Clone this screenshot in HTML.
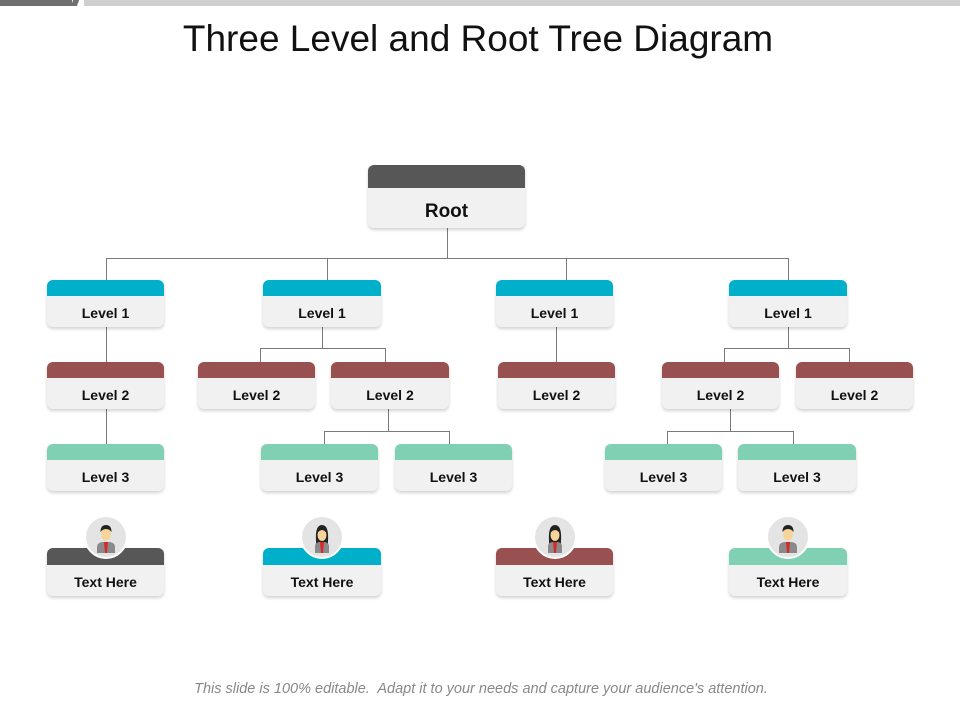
<!DOCTYPE html>
<html><head><meta charset="utf-8"><style>
body{margin:0;width:960px;height:720px;background:#fff;position:relative;overflow:hidden;font-family:"Liberation Sans",Arial,sans-serif}
.b{position:absolute;background:#f1f1f1;border-radius:6px;box-shadow:0 2px 3px rgba(0,0,0,.18);overflow:hidden;text-align:center;font-weight:bold;font-size:14px;color:#111}
.b i{display:block;height:16px}
.b span{display:block;line-height:31px;padding-top:2px}
.t{background:#00afca}.m{background:#985050}.g{background:#80d0b3}.d{background:#575757}
.av{position:absolute;width:40px;height:40px;border-radius:50%;background:#e4e4e4;border:2px solid #fff}
</style></head><body>
<div style="position:absolute;left:0;top:0;width:72px;height:6px;background:#6f6f6f"></div>
<div style="position:absolute;left:72px;top:0;width:6px;height:6px;background:#6f6f6f;transform:skewX(-20deg)"></div>
<div style="position:absolute;left:84px;top:0;width:876px;height:6px;background:#cfcfcf"></div>
<div style="position:absolute;left:0;width:956px;top:18px;text-align:center;font-size:37px;color:#111">Three Level and Root Tree Diagram</div>

<svg style="position:absolute;left:0;top:0" width="960" height="720" fill="none" stroke="#7a7a7a" stroke-width="1">
<path d="M447.5 228V258.5M106.5 258.5H788.5M106.5 258V280M327.5 258V280M566.5 258V280M788.5 258V280"/>
<path d="M106.5 327V444M322.5 327V348.5M260.5 348.5H385.5M260.5 348V362M385.5 348V362"/>
<path d="M388.5 409V431.5M324.5 431.5H449.5M324.5 431V444M449.5 431V444"/>
<path d="M556.5 327V362M788.5 327V348.5M724.5 348.5H849.5M724.5 348V362M849.5 348V362"/>
<path d="M730.5 409V431.5M667.5 431.5H793.5M667.5 431V444M793.5 431V444"/>
</svg>

<div class="b" style="left:368px;top:165px;width:157px;height:63px;font-size:19px"><i class="d" style="height:23px"></i><span style="line-height:42px;padding-top:3px">Root</span></div>

<div class="b" style="left:47px;top:280px;width:117px;height:47px"><i class="t"></i><span>Level 1</span></div>
<div class="b" style="left:263px;top:280px;width:118px;height:47px"><i class="t"></i><span>Level 1</span></div>
<div class="b" style="left:496px;top:280px;width:117px;height:47px"><i class="t"></i><span>Level 1</span></div>
<div class="b" style="left:729px;top:280px;width:118px;height:47px"><i class="t"></i><span>Level 1</span></div>

<div class="b" style="left:47px;top:362px;width:117px;height:47px"><i class="m"></i><span>Level 2</span></div>
<div class="b" style="left:198px;top:362px;width:117px;height:47px"><i class="m"></i><span>Level 2</span></div>
<div class="b" style="left:331px;top:362px;width:118px;height:47px"><i class="m"></i><span>Level 2</span></div>
<div class="b" style="left:498px;top:362px;width:117px;height:47px"><i class="m"></i><span>Level 2</span></div>
<div class="b" style="left:662px;top:362px;width:117px;height:47px"><i class="m"></i><span>Level 2</span></div>
<div class="b" style="left:796px;top:362px;width:117px;height:47px"><i class="m"></i><span>Level 2</span></div>

<div class="b" style="left:47px;top:444px;width:117px;height:47px"><i class="g"></i><span>Level 3</span></div>
<div class="b" style="left:261px;top:444px;width:117px;height:47px"><i class="g"></i><span>Level 3</span></div>
<div class="b" style="left:395px;top:444px;width:117px;height:47px"><i class="g"></i><span>Level 3</span></div>
<div class="b" style="left:605px;top:444px;width:117px;height:47px"><i class="g"></i><span>Level 3</span></div>
<div class="b" style="left:738px;top:444px;width:118px;height:47px"><i class="g"></i><span>Level 3</span></div>

<div class="b" style="left:47px;top:548px;width:117px;height:48px"><i class="d" style="height:17px"></i><span>Text Here</span></div>
<div class="b" style="left:263px;top:548px;width:118px;height:48px"><i class="t" style="height:17px"></i><span>Text Here</span></div>
<div class="b" style="left:496px;top:548px;width:117px;height:48px"><i class="m" style="height:17px"></i><span>Text Here</span></div>
<div class="b" style="left:729px;top:548px;width:118px;height:48px"><i class="g" style="height:17px"></i><span>Text Here</span></div>

<div class="av" style="left:84px;top:515px"><svg width="40" height="40"><path d="M11 36v-6q0-4 5-5h8q5 1 5 5v6z" fill="#8a8a8a"/><path d="M18 25h4l-1 11h-2z" fill="#d62a2a"/><ellipse cx="20" cy="17" rx="5" ry="6.5" fill="#f6d49a"/><path d="M14.5 15q0-7 5.5-7t5.5 7q-2-3-5.5-3t-5.5 3z" fill="#222"/></svg></div>
<div class="av" style="left:300px;top:515px"><svg width="40" height="40"><path d="M14 24q-1-16 6-16t6 16v12h-12z" fill="#222"/><path d="M13 36v-7q0-3 4-4h6q4 1 4 4v7z" fill="#8a8a8a"/><path d="M18 25h4l-1 11h-2z" fill="#d62a2a"/><ellipse cx="20" cy="18" rx="4.5" ry="6" fill="#f6d49a"/><path d="M15 16q1-6 5-6t5 6q-3-3-5-3t-5 3z" fill="#222"/></svg></div>
<div class="av" style="left:533px;top:515px"><svg width="40" height="40"><path d="M14 24q-1-16 6-16t6 16v12h-12z" fill="#222"/><path d="M13 36v-7q0-3 4-4h6q4 1 4 4v7z" fill="#8a8a8a"/><path d="M18 25h4l-1 11h-2z" fill="#d62a2a"/><ellipse cx="20" cy="18" rx="4.5" ry="6" fill="#f6d49a"/><path d="M15 16q1-6 5-6t5 6q-3-3-5-3t-5 3z" fill="#222"/></svg></div>
<div class="av" style="left:766px;top:515px"><svg width="40" height="40"><path d="M11 36v-6q0-4 5-5h8q5 1 5 5v6z" fill="#8a8a8a"/><path d="M18 25h4l-1 11h-2z" fill="#d62a2a"/><ellipse cx="20" cy="17" rx="5" ry="6.5" fill="#f6d49a"/><path d="M14.5 15q0-7 5.5-7t5.5 7q-2-3-5.5-3t-5.5 3z" fill="#222"/></svg></div>

<div style="position:absolute;left:0;width:962px;top:681px;text-align:center;font-size:14.5px;font-style:italic;color:#888">This slide is 100% editable.&nbsp; Adapt it to your needs and capture your audience's attention.</div>
</body></html>
